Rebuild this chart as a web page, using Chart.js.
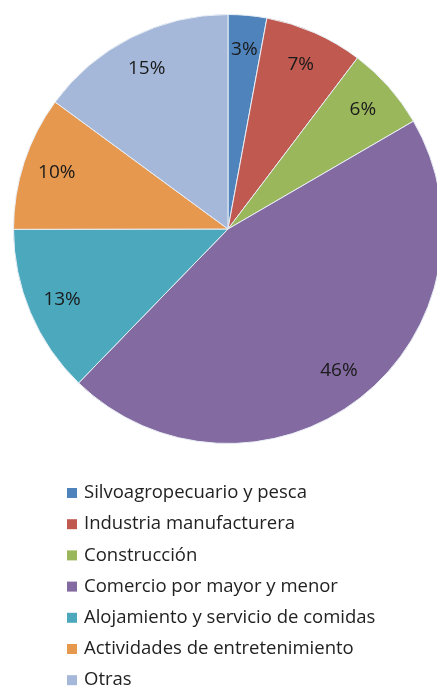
<!DOCTYPE html>
<html>
<head>
<meta charset="utf-8">
<script src="https://cdn.jsdelivr.net/npm/chart.js@4.4.1/dist/chart.umd.min.js"></script>
<style>
    html, body { margin: 0; padding: 0; background: #fff; overflow: hidden; }
    body { width: 437px; height: 687px; position: relative; }
    #wrap { position: absolute; left: 0; top: 0; width: 456px; height: 687px; }
</style>
</head>
<body>
<div id="wrap"><canvas id="pie" width="456" height="687"></canvas></div>
<script>
const categories = [
    'Silvoagropecuario y pesca',
    'Industria manufacturera',
    'Construcción',
    'Comercio por mayor y menor',
    'Alojamiento y servicio de comidas',
    'Actividades de entretenimiento',
    'Otras'
];
const shares = [2.9, 7.4, 6.3, 45.6, 12.7, 10.1, 14.9];
const sliceColors = ['#4f83bb', '#c05a51', '#9bb75c', '#836aa0', '#4ba8bd', '#e7984f', '#a5b8da'];

const font = '"Open Sans", "DejaVu Sans", sans-serif';

// percent labels inside each slice, near the rim
const sliceLabels = {
    id: 'sliceLabels',
    afterDatasetsDraw(chart) {
        const ctx = chart.ctx;
        const meta = chart.getDatasetMeta(0);
        const total = shares.reduce((a, b) => a + b, 0);
        ctx.save();
        ctx.font = '19px ' + font;
        ctx.fillStyle = '#1a1a1a';
        ctx.textAlign = 'center';
        ctx.textBaseline = 'middle';
        meta.data.forEach((arc, i) => {
            const p = arc.getProps(['x', 'y', 'startAngle', 'endAngle', 'outerRadius'], true);
            const mid = (p.startAngle + p.endAngle) / 2;
            const r = p.outerRadius * 0.84;
            const txt = Math.round(shares[i] / total * 100) + '%';
            ctx.fillText(txt, p.x + Math.cos(mid) * r, p.y + Math.sin(mid) * r);
        });
        ctx.restore();
    }
};

// vertical legend under the pie
const listLegend = {
    id: 'listLegend',
    afterDraw(chart) {
        const ctx = chart.ctx;
        const items = chart.options.plugins.legend.labels.generateLabels(chart);
        ctx.save();
        ctx.font = '18.5px ' + font;
        ctx.textBaseline = 'middle';
        items.forEach((item, i) => {
            const y = 493 + i * 31.2;
            ctx.fillStyle = item.fillStyle;
            ctx.fillRect(67, y - 5, 10, 10);
            ctx.fillStyle = '#222';
            ctx.fillText(item.text, 84, y);
        });
        ctx.restore();
    }
};

new Chart(document.getElementById('pie'), {
    type: 'pie',
    data: {
        labels: categories,
        datasets: [{
            data: shares,
            backgroundColor: sliceColors,
            borderColor: '#e8eef5',
            borderWidth: 1
        }]
    },
    options: {
        responsive: false,
        animation: false,
        layout: { padding: { top: 14, bottom: 243, left: 0, right: 0 } },
        plugins: {
            legend: { display: false },
            tooltip: { enabled: false }
        }
    },
    plugins: [sliceLabels, listLegend]
});
</script>
</body>
</html>
